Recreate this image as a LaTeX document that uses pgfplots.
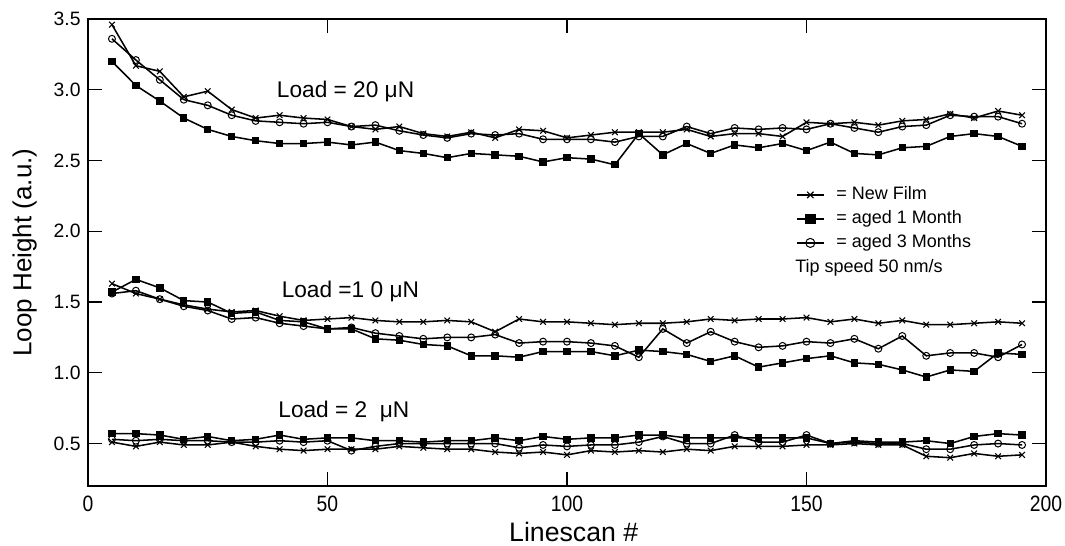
\documentclass[border=0pt]{standalone}
\usepackage{pgfplots}
\pgfplotsset{compat=1.18}
\usepackage{pgfplotstable}
\usepackage{graphicx}
\usepackage{fontspec}
\setmainfont{Liberation Sans}

% columns: x, New Film, aged 1 Month, aged 3 Months
\pgfplotstableread{
x nf m1 m3
5 3.46 3.20 3.36
10 3.17 3.03 3.21
15 3.13 2.92 3.07
20 2.95 2.80 2.93
25 2.99 2.72 2.89
30 2.86 2.67 2.82
35 2.80 2.64 2.78
40 2.82 2.62 2.77
45 2.80 2.62 2.76
50 2.79 2.63 2.77
55 2.74 2.61 2.74
60 2.72 2.63 2.75
65 2.74 2.57 2.71
70 2.69 2.55 2.68
75 2.67 2.52 2.66
80 2.70 2.55 2.69
85 2.66 2.54 2.68
90 2.72 2.53 2.69
95 2.71 2.49 2.65
100 2.66 2.52 2.65
105 2.68 2.51 2.65
110 2.70 2.47 2.63
115 2.70 2.69 2.67
120 2.70 2.54 2.67
125 2.72 2.62 2.74
130 2.67 2.55 2.69
135 2.69 2.61 2.73
140 2.69 2.59 2.72
145 2.67 2.62 2.73
150 2.77 2.57 2.72
155 2.76 2.63 2.76
160 2.77 2.55 2.73
165 2.75 2.54 2.70
170 2.78 2.59 2.74
175 2.79 2.60 2.75
180 2.83 2.67 2.82
185 2.80 2.69 2.81
190 2.85 2.67 2.81
195 2.82 2.60 2.76
}\loadtwenty

\pgfplotstableread{
x nf m1 m3
5 1.63 1.57 1.56
10 1.56 1.66 1.58
15 1.52 1.60 1.52
20 1.48 1.51 1.47
25 1.45 1.50 1.44
30 1.43 1.42 1.38
35 1.44 1.43 1.39
40 1.40 1.37 1.35
45 1.37 1.36 1.33
50 1.38 1.31 1.31
55 1.39 1.31 1.32
60 1.37 1.24 1.28
65 1.36 1.23 1.26
70 1.36 1.20 1.24
75 1.37 1.19 1.25
80 1.36 1.12 1.25
85 1.29 1.12 1.27
90 1.38 1.11 1.21
95 1.36 1.15 1.22
100 1.36 1.15 1.22
105 1.35 1.15 1.21
110 1.34 1.12 1.19
115 1.35 1.16 1.11
120 1.35 1.15 1.31
125 1.36 1.13 1.21
130 1.38 1.08 1.29
135 1.37 1.12 1.22
140 1.38 1.04 1.18
145 1.38 1.07 1.19
150 1.39 1.10 1.22
155 1.36 1.12 1.21
160 1.38 1.07 1.24
165 1.35 1.06 1.17
170 1.37 1.02 1.26
175 1.34 0.97 1.12
180 1.34 1.02 1.14
185 1.35 1.01 1.14
190 1.36 1.14 1.11
195 1.35 1.13 1.20
}\loadten

\pgfplotstableread{
x nf m1 m3
5 0.51 0.57 0.53
10 0.48 0.57 0.52
15 0.51 0.56 0.53
20 0.49 0.53 0.52
25 0.49 0.55 0.52
30 0.51 0.52 0.51
35 0.48 0.53 0.51
40 0.46 0.56 0.52
45 0.45 0.53 0.51
50 0.46 0.54 0.52
55 0.46 0.54 0.45
60 0.46 0.52 0.48
65 0.48 0.52 0.50
70 0.47 0.51 0.50
75 0.46 0.52 0.50
80 0.46 0.52 0.50
85 0.44 0.54 0.50
90 0.43 0.52 0.47
95 0.44 0.55 0.49
100 0.42 0.53 0.48
105 0.45 0.54 0.49
110 0.44 0.54 0.49
115 0.45 0.56 0.51
120 0.44 0.56 0.55
125 0.46 0.54 0.50
130 0.45 0.54 0.50
135 0.48 0.54 0.56
140 0.48 0.54 0.51
145 0.48 0.54 0.51
150 0.49 0.54 0.56
155 0.49 0.50 0.50
160 0.50 0.52 0.51
165 0.49 0.51 0.50
170 0.49 0.51 0.50
175 0.41 0.52 0.46
180 0.40 0.50 0.46
185 0.43 0.55 0.49
190 0.41 0.57 0.50
195 0.42 0.56 0.49
}\loadtwo

\pgfplotsset{
  nf/.style={black, line width=1.15pt, mark=x, mark size=3pt, mark options={line width=0.8pt}},
  mone/.style={black, line width=1.15pt, mark=square*, mark size=2.2pt},
  mthree/.style={black, line width=1.15pt, mark=o, mark size=2.6pt, mark options={line width=0.75pt}},
}

\begin{document}
\begin{tikzpicture}
\begin{axis}[
  at={(0pt,0pt)}, anchor=south west,
  scale only axis, width=718.5pt, height=350.25pt,
  xmin=0, xmax=200, ymin=0.2, ymax=3.5,
  xtick={0,50,100,150,200},
  ytick={0.5,1.0,1.5,2.0,2.5,3.0,3.5},
  minor tick num=0,
  tick align=inside,
  major tick length=10.5pt,
  major tick style={line width=1pt, black},
  axis line style={line width=1.3pt, black},
  /pgf/number format/assume math mode=true,
  yticklabel style={/pgf/number format/.cd, fixed, fixed zerofill, precision=1, /tikz/.cd,
     font=\fontsize{14.5}{17}\selectfont, xshift=-2pt},
  xticklabel style={font=\fontsize{14.5}{17}\selectfont, yshift=-4pt},
  xticklabel={\scalebox{1}[1.15]{\pgfmathprintnumber{\tick}}},
  xlabel={Linescan \#},
  ylabel={Loop Height (a.u.)},
  xlabel style={font=\fontsize{20}{24}\selectfont, at={(axis description cs:0.507,-0.098)}, anchor=center, inner sep=0pt},
  ylabel style={font=\fontsize{19.5}{23}\selectfont, at={(axis description cs:-0.066,0.5)}, anchor=center},
  legend style={at={(axis cs:147.8,2.32)}, anchor=north west, draw=none, fill=none,
     inner sep=0pt, row sep=5pt, column sep=9pt,
     font=\fontsize{13.5}{16}\selectfont,
     nodes={inner sep=0pt, text height=10pt, text depth=3pt}},
  legend cell align=left,
  legend image code/.code={\draw[mark repeat=2,mark phase=2,#1] plot coordinates {(0pt,0pt) (10pt,0pt) (20pt,0pt)};},
]
\addlegendimage{nf, mark size=3.4pt}
\addlegendentry{= New Film}
\addlegendimage{mone, mark size=3.4pt}
\addlegendentry{= aged 1 Month}
\addlegendimage{mthree, mark size=3.4pt}
\addlegendentry{= aged 3 Months}

\addplot[nf, forget plot] table[x=x, y=nf] {\loadtwenty};
\addplot[mone, forget plot] table[x=x, y=m1] {\loadtwenty};
\addplot[mthree, forget plot] table[x=x, y=m3] {\loadtwenty};

\addplot[nf, forget plot] table[x=x, y=nf] {\loadten};
\addplot[mone, forget plot] table[x=x, y=m1] {\loadten};
\addplot[mthree, forget plot] table[x=x, y=m3] {\loadten};

\addplot[nf, forget plot] table[x=x, y=nf] {\loadtwo};
\addplot[mone, forget plot] table[x=x, y=m1] {\loadtwo};
\addplot[mthree, forget plot] table[x=x, y=m3] {\loadtwo};

\node[anchor=west, inner sep=0pt, font=\fontsize{17}{20}\selectfont] at (axis cs:39.4,2.987) {Load = 20 μN};
\node[anchor=west, inner sep=0pt, font=\fontsize{17}{20}\selectfont] at (axis cs:40.4,1.575) {Load =1 0 μN};
\node[anchor=west, inner sep=0pt, font=\fontsize{17}{20}\selectfont] at (axis cs:39.7,0.729) {Load = 2~~μN};
\node[anchor=west, inner sep=0pt, font=\fontsize{13.5}{16}\selectfont] at (axis cs:147.6,1.743) {Tip speed 50 nm/s};
\end{axis}
\pgfresetboundingbox
\path (-66pt,-45pt) rectangle (732.75pt,364.5pt);
\end{tikzpicture}
\end{document}
